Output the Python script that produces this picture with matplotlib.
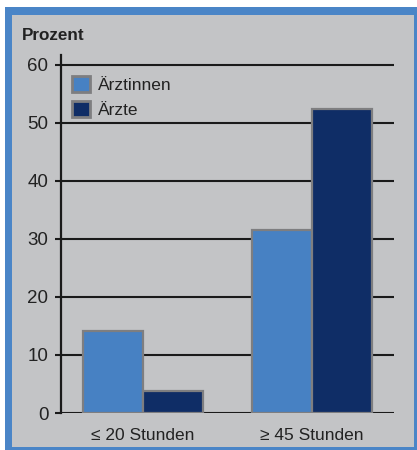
import matplotlib
matplotlib.use("Agg")
import matplotlib.pyplot as plt
from matplotlib.patches import Rectangle
import numpy as np

categories = ["≤ 20 Stunden", "≥ 45 Stunden"]
aerztinnen = [14.1, 31.6]
aerzte = [3.8, 52.4]
series_names = ["Ärztinnen", "Ärzte"]
yticks = [0, 10, 20, 30, 40, 50, 60]

c_light = "#4781C3"
c_dark = "#0F2D66"
c_bg = "#C3C4C6"
c_frame = "#4A85C7"
c_edge = "#7E7E80"

plt.rcParams['font.family'] = ['Liberation Sans', 'DejaVu Sans']

fig = plt.figure(figsize=(4.17, 4.5), dpi=100)
fig.patch.set_facecolor("white")
W, H = 417, 450
# frame
fig.patches.append(Rectangle((5 / W, 0), 1 - 5 / W, 1 - 7 / H, transform=fig.transFigure,
                             facecolor=c_frame, edgecolor="none", zorder=-10))
fig.patches.append(Rectangle((12 / W, 3 / H), (414 - 12) / W, (447 - 15) / H, transform=fig.transFigure,
                             facecolor=c_bg, edgecolor="none", zorder=-9))

ax = fig.add_axes([61 / W, 1 - 413 / H, (394 - 61) / W, (413 - 55) / H])
ax.set_facecolor("none")
x = np.arange(len(categories))
w = 0.355
ax.bar(x - w / 2, aerztinnen, width=w, color=c_light, edgecolor=c_edge, linewidth=1.6, zorder=3,
       label=series_names[0])
ax.bar(x + w / 2, aerzte, width=w, color=c_dark, edgecolor=c_edge, linewidth=1.6, zorder=3,
       label=series_names[1])

ax.set_xlim(-0.485, 1.485)
ax.set_ylim(0, 61.7)
ax.set_yticks(yticks)
ax.set_yticklabels([str(t) for t in yticks], fontsize=13.5, color="#222222")
ax.set_xticks(x)
ax.set_xticklabels(categories, fontsize=12.5, color="#222222")
ax.tick_params(axis="x", length=0, pad=11)
ax.tick_params(axis="y", length=4.5, width=1.5, color="#1a1a1a", pad=4.5)
ax.yaxis.grid(True, color="#1a1a1a", linewidth=1.5, zorder=1)
ax.set_axisbelow(True)
for s in ["top", "right", "bottom"]:
    ax.spines[s].set_visible(False)
ax.spines["left"].set_linewidth(1.6)
ax.spines["left"].set_color("#1a1a1a")

leg = ax.legend(loc="upper left", bbox_to_anchor=((72 - 61) / 333, 1 - (76 - 55) / 358),
                frameon=False, fontsize=12.5,
                handlelength=1.05, handleheight=1.05, handletextpad=0.45, labelspacing=0.45,
                borderaxespad=0.0, borderpad=0.0)
for t in leg.get_texts():
    t.set_color("#222222")
for hnd in leg.legend_handles:
    hnd.set_linewidth(2.0)

fig.text(22 / W, 1 - 36 / H, "Prozent", fontsize=12.3, fontweight="bold", color="#222222",
         va="center", ha="left")

fig.savefig("out.png", dpi=100, facecolor=fig.get_facecolor())
